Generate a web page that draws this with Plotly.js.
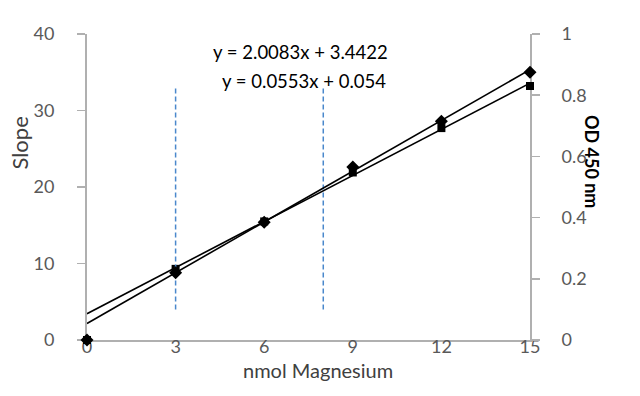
<!DOCTYPE html>
<html><head><meta charset="utf-8">
<script src="https://cdn.plot.ly/plotly-3.0.1.min.js"></script>
<style>html,body{margin:0;padding:0;background:#fff}#c{width:640px;height:396px}</style>
</head><body><div id="c"></div>
<script>
// Data
const magnesium = [0, 3, 6, 9, 12, 15];
const slopeValues = [0, 9.3, 15.5, 21.9, 27.7, 33.2];     // left axis, square markers
const odValues = [0, 0.22, 0.385, 0.565, 0.715, 0.875];   // right axis, diamond markers
const slopeFit = [2.0083, 3.4422];  // y = m x + b
const odFit = [0.0553, 0.054];
const fitX = [0, 15];
const markerX = [3, 8];
const markerSpan = [4, 33];
const xTicks = [0, 3, 6, 9, 12, 15];
const yTicks = [0, 10, 20, 30, 40];
const y2Ticks = [0, 0.2, 0.4, 0.6, 0.8, 1];
const y2Labels = ['0', '0.2', '0.4', '0.6', '0.8', '1'];

const font = "Lato, 'Open Sans', sans-serif";
const axisCol = '#b0b0b0';
const txtCol = '#595959';

const traces = [
  {x: fitX, y: fitX.map(v => slopeFit[0]*v + slopeFit[1]), mode: 'lines',
   line: {color: '#000', width: 1.6}, yaxis: 'y', hoverinfo: 'skip'},
  {x: fitX, y: fitX.map(v => odFit[0]*v + odFit[1]), mode: 'lines',
   line: {color: '#000', width: 1.6}, yaxis: 'y2', hoverinfo: 'skip'},
  {x: magnesium, y: slopeValues, mode: 'markers', yaxis: 'y', cliponaxis: false,
   marker: {symbol: 'square', size: 8, color: '#000'}},
  {x: magnesium, y: odValues, mode: 'markers', yaxis: 'y2', cliponaxis: false,
   marker: {symbol: 'diamond', size: 10, color: '#000'}}
];
markerX.forEach(xv => traces.push({x: [xv, xv], y: markerSpan, mode: 'lines', yaxis: 'y',
  line: {color: '#4a88cc', width: 1.5, dash: '5px,3px'}, hoverinfo: 'skip'}));

const layout = {
  width: 640, height: 396, showlegend: false,
  paper_bgcolor: '#fff', plot_bgcolor: '#fff',
  margin: {l: 87, r: 110, t: 34, b: 56},
  font: {family: font, size: 18, color: txtCol},
  xaxis: {range: [0, 15], tickvals: xTicks, showgrid: false, zeroline: false,
    showline: true, linecolor: axisCol, linewidth: 2, ticks: '', ticklen: 0,
    ticklabelstandoff: -11, layer: 'below traces',
    tickfont: {size: 18, color: txtCol}},
  yaxis: {range: [0, 40], tickvals: yTicks, showgrid: false, zeroline: false,
    showline: true, linecolor: axisCol, linewidth: 2, ticks: 'outside', ticklen: 8,
    tickcolor: axisCol, tickwidth: 1.5, ticklabelstandoff: 19, layer: 'below traces',
    tickfont: {size: 18, color: txtCol}},
  yaxis2: {range: [0, 1], overlaying: 'y', side: 'right', tickvals: y2Ticks, ticktext: y2Labels,
    showgrid: false, zeroline: false, showline: true, linecolor: axisCol, linewidth: 2,
    ticks: 'outside', ticklen: 8, tickcolor: axisCol, tickwidth: 1.5, ticklabelstandoff: 18,
    layer: 'below traces', tickfont: {size: 18, color: txtCol}},
  annotations: [
    {text: 'nmol Magnesium', xref: 'paper', yref: 'paper', x: 0.521, y: -0.098,
     xanchor: 'center', yanchor: 'middle', showarrow: false, font: {size: 20, color: '#404040'}},
    {text: 'Slope', textangle: -90, xref: 'paper', yref: 'paper', x: -0.152, y: 0.644,
     xanchor: 'center', yanchor: 'middle', showarrow: false, font: {size: 22, color: '#404040'}},
    {text: 'OD 450 nm', textangle: 90, xref: 'paper', yref: 'paper', x: 1.14, y: 0.582,
     xanchor: 'center', yanchor: 'middle', showarrow: false,
     font: {size: 18, color: '#000', family: font, weight: 'bold'}},
    {text: 'y = 2.0083x + 3.4422', xref: 'paper', yref: 'paper', x: 0.481, y: 0.941,
     xanchor: 'center', yanchor: 'middle', showarrow: false, font: {size: 18.5, color: '#000'}},
    {text: 'y = 0.0553x + 0.054', xref: 'paper', yref: 'paper', x: 0.49, y: 0.846,
     xanchor: 'center', yanchor: 'middle', showarrow: false, font: {size: 18.5, color: '#000'}}
  ]
};
Plotly.newPlot('c', traces, layout, {displayModeBar: false, staticPlot: true});
</script></body></html>
